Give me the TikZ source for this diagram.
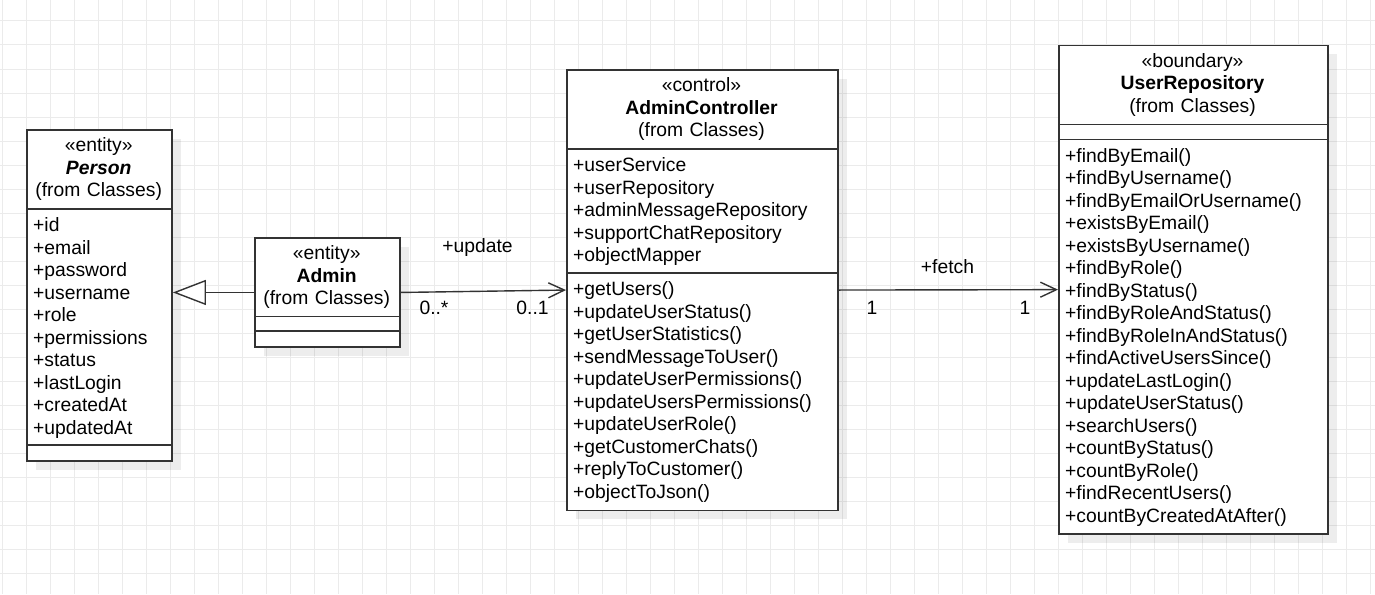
\documentclass[tikz,border=0pt]{standalone}
\usepackage{fontspec}
\setmainfont{Liberation Sans}
\usetikzlibrary{positioning}
\usetikzlibrary{arrows.meta}
\usetikzlibrary{shadows}

\begin{document}
\begin{tikzpicture}[x=1pt,y=-1pt,font=\fontsize{19.3}{22.5}\selectfont,
  gridline/.style={draw=black!8,line width=1pt},
  classbox/.style={rectangle,draw=black!80,line width=1.6pt,fill=white,anchor=north west,inner sep=0,
                   drop shadow={shadow xshift=9pt,shadow yshift=-9pt,fill=black,opacity=0.07}},
  head/.style={anchor=base,inner sep=0,align=center,text width=#1},
  members/.style={anchor=base west,inner sep=0,align=left,text width=#1},
  sep/.style={draw=black!80,line width=1.6pt},
  assoc/.style={draw=black!80,line width=1.4pt,-{Straight Barb[length=16pt,width=15pt]}},
  gen/.style={draw=black!80,line width=1.4pt,-{Triangle[open,fill=white,length=33pt,width=25pt]}},
  mult/.style={anchor=base,inner sep=0}]

\useasboundingbox[fill=white] (0,0) rectangle (1375,594);
\foreach \gx in {2,26,...,1370} \draw[gridline] (\gx,0) -- (\gx,594);
\foreach \gy in {21,45,...,573} \draw[gridline] (0,\gy) -- (1375,\gy);

% Person
\node at (26,129) [classbox,minimum width=145.3,minimum height=331] (person) {};
\node at (98.7,151.5) [head=145] (personhead) {«entity»\\ \textbf{\textit{Person}}\\ (from Classes)};
\draw[sep] ([yshift=-79.7pt]person.north west) -- ([yshift=-79.7pt]person.north east);
\node at (33,231.7) [members=130] (personattr) {+id\\ +email\\ +password\\ +username\\ +role\\
                                                  +permissions\\ +status\\ +lastLogin\\ +createdAt\\ +updatedAt};
\draw[sep] ([yshift=-316pt]person.north west) -- ([yshift=-316pt]person.north east);

% Admin
\node at (254,237) [classbox,minimum width=145.3,minimum height=109.3] (admin) {};
\node at (326.7,259.5) [head=145] (adminhead) {«entity»\\ \textbf{Admin}\\ (from Classes)};
\draw[sep] ([yshift=-79.3pt]admin.north west) -- ([yshift=-79.3pt]admin.north east);
\draw[sep] ([yshift=-94pt]admin.north west) -- ([yshift=-94pt]admin.north east);

% AdminController
\node at (566,69) [classbox,minimum width=271,minimum height=440.5] (ctrl) {};
\node at (701.5,91.5) [head=270] (ctrlhead) {«control»\\ \textbf{AdminController}\\ (from Classes)};
\draw[sep] ([yshift=-79.7pt]ctrl.north west) -- ([yshift=-79.7pt]ctrl.north east);
\node at (573,171.7) [members=260] (ctrlattr) {+userService\\ +userRepository\\ +adminMessageRepository\\
                                                 +supportChatRepository\\ +objectMapper};
\draw[sep] ([yshift=-203.7pt]ctrl.north west) -- ([yshift=-203.7pt]ctrl.north east);
\node at (573,295.7) [members=260] (ctrlops) {+getUsers()\\ +updateUserStatus()\\ +getUserStatistics()\\
                                               +sendMessageToUser()\\ +updateUserPermissions()\\
                                               +updateUsersPermissions()\\ +updateUserRole()\\
                                               +getCustomerChats()\\ +replyToCustomer()\\ +objectToJson()};

% UserRepository
\node at (1058,44.7) [classbox,minimum width=269,minimum height=488.3] (repo) {};
\node at (1192.5,67.2) [head=268] (repohead) {«boundary»\\ \textbf{UserRepository}\\ (from Classes)};
\draw[sep] ([yshift=-79.6pt]repo.north west) -- ([yshift=-79.6pt]repo.north east);
\draw[sep] ([yshift=-94.6pt]repo.north west) -- ([yshift=-94.6pt]repo.north east);
\node at (1065,162.3) [members=258] (repoops) {+findByEmail()\\ +findByUsername()\\ +findByEmailOrUsername()\\
                                                +existsByEmail()\\ +existsByUsername()\\ +findByRole()\\
                                                +findByStatus()\\ +findByRoleAndStatus()\\ +findByRoleInAndStatus()\\
                                                +findActiveUsersSince()\\ +updateLastLogin()\\ +updateUserStatus()\\
                                                +searchUsers()\\ +countByStatus()\\ +countByRole()\\
                                                +findRecentUsers()\\ +countByCreatedAtAfter()};

% connectors
\draw[gen] (admin.west) -- (admin.west -| person.east);
\draw[assoc] (admin.east) -- (ctrl.west);
\draw[assoc] (ctrl.east) -- (repo.west);

\node at (477.5,252.8) [mult] (updlbl) {+update};
\node at (434,314.5) [mult] (updfrom) {0..*};
\node at (532.5,314.5) [mult] (updto) {0..1};
\node at (947.5,273) [mult] (fetchlbl) {+fetch};
\node at (872,314.3) [mult] (fetchfrom) {1};
\node at (1025,314.3) [mult] (fetchto) {1};
\end{tikzpicture}
\end{document}
